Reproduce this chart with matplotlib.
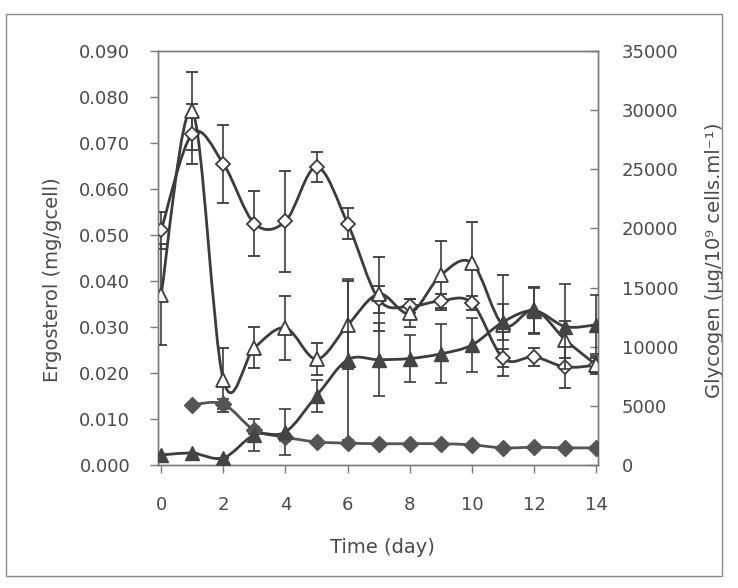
import numpy as np
import matplotlib
matplotlib.use("Agg")
import matplotlib.pyplot as plt
from matplotlib.path import Path
from matplotlib.patches import PathPatch, Rectangle

# data
days = np.arange(0, 15)

# ergosterol (left axis, mg/gcell)
ergo_open_diamond = [0.051, 0.072, 0.0655, 0.0525, 0.053, 0.0648, 0.0525, 0.036,
                     0.0345, 0.0357, 0.0352, 0.0232, 0.0235, 0.0213, 0.0217]
ergo_open_diamond_err = [0.004, 0.0065, 0.0085, 0.007, 0.011, 0.0033, 0.0033, 0.003,
                         0.0015, 0.0015, 0.0015, 0.002, 0.002, 0.0045, 0.0015]
ergo_open_triangle = [0.037, 0.077, 0.0185, 0.0255, 0.0298, 0.023, 0.0304, 0.0372,
                      0.033, 0.0413, 0.0439, 0.0304, 0.0337, 0.0272, 0.0217]
ergo_open_triangle_err = [0.011, 0.0085, 0.007, 0.0045, 0.007, 0.0035, 0.0095, 0.008,
                          0.003, 0.0075, 0.009, 0.011, 0.005, 0.004, 0.002]

# glycogen (right axis, ug/10^9 cells.ml^-1)
gly_days = np.arange(1, 15)
gly_filled_diamond = [5100, 5150, 2950, 2350, 1950, 1850, 1800, 1800, 1800, 1700,
                      1450, 1500, 1450, 1450]
gly_filled_diamond_err = [0, 450, 300, 300, 0, 0, 0, 0, 0, 0, 0, 0, 0, 0]
gly_filled_triangle = [850, 1000, 600, 2550, 2800, 5850, 8900, 8900, 9000, 9400,
                       10150, 12100, 13050, 11700, 11850]
gly_filled_triangle_err = [0, 0, 0, 1350, 1950, 1350, 6800, 3100, 1950, 2500,
                           2300, 1500, 1950, 3600, 2500]

ink = "#3c3c3c"
txt = "#4a4a4a"


def smooth_line(ax, x, y, **kw):
    """Draw an Excel style smoothed line (cubic Bezier) through the points."""
    x = np.asarray(x, float)
    y = np.asarray(y, float)
    n = len(x)
    verts = [(x[0], y[0])]
    codes = [Path.MOVETO]
    for i in range(n - 1):
        p0 = i - 1 if i > 0 else i
        p3 = i + 2 if i + 2 < n else i + 1
        c1 = (x[i] + (x[i + 1] - x[p0]) / 6.0, y[i] + (y[i + 1] - y[p0]) / 6.0)
        c2 = (x[i + 1] - (x[p3] - x[i]) / 6.0, y[i + 1] - (y[p3] - y[i]) / 6.0)
        verts += [c1, c2, (x[i + 1], y[i + 1])]
        codes += [Path.CURVE4] * 3
    ax.add_patch(PathPatch(Path(verts, codes), fill=False, **kw))


fig = plt.figure(figsize=(7.38, 5.88), dpi=100)
fig.patch.set_facecolor("white")
fig.patches.append(Rectangle((6 / 738, 12 / 588), 716 / 738, 562 / 588,
                             transform=fig.transFigure, fill=False,
                             edgecolor="#8a8a8a", linewidth=1.0))

ax = fig.add_axes([158 / 738, 1 - 465 / 588, 440 / 738, 414 / 588])
ax2 = ax.twinx()

err_kw = dict(ecolor=ink, elinewidth=1.2, capsize=4, capthick=1.2, linestyle="none")

# open diamonds
smooth_line(ax, days, ergo_open_diamond, edgecolor=ink, linewidth=2, zorder=3)
ax.errorbar(days, ergo_open_diamond, yerr=ergo_open_diamond_err, marker="D",
            markersize=7, markerfacecolor="white", markeredgecolor=ink,
            markeredgewidth=1.3, zorder=4, **err_kw)

# open triangles
smooth_line(ax, days, ergo_open_triangle, edgecolor=ink, linewidth=2, zorder=3)
ax.errorbar(days, ergo_open_triangle, yerr=ergo_open_triangle_err, marker="^",
            markersize=10, markerfacecolor="white", markeredgecolor=ink,
            markeredgewidth=1.3, zorder=4, **err_kw)

# filled diamonds
smooth_line(ax2, gly_days, gly_filled_diamond, edgecolor="#555555", linewidth=2, zorder=3)
ax2.errorbar(gly_days, gly_filled_diamond, yerr=gly_filled_diamond_err, marker="D",
             markersize=8, markerfacecolor="#555555", markeredgecolor="#555555",
             zorder=4, **err_kw)

# filled triangles
smooth_line(ax2, days, gly_filled_triangle, edgecolor=ink, linewidth=2, zorder=3)
ax2.errorbar(days, gly_filled_triangle, yerr=gly_filled_triangle_err, marker="^",
             markersize=10, markerfacecolor="#444444", markeredgecolor="#444444",
             zorder=4, **err_kw)

ax.set_xlim(-0.1, 14.05)
ax.set_ylim(0, 0.09)
ax2.set_ylim(0, 35000)

ax.set_xticks(np.arange(0, 15, 2))
ax.set_yticks(np.arange(0, 0.0901, 0.01))
ax.set_yticklabels(["%.3f" % v for v in np.arange(0, 0.0901, 0.01)])
ax2.set_yticks(np.arange(0, 35001, 5000))

for a in (ax, ax2):
    for s in a.spines.values():
        s.set_color("#7a7a7a")
        s.set_linewidth(1.0)
ax.tick_params(axis="x", colors="#7a7a7a", labelcolor=txt, labelsize=13,
               length=6, width=1, direction="out", pad=16)
ax.tick_params(axis="y", colors="#7a7a7a", labelcolor=txt, labelsize=13,
               length=6, width=1, direction="out", pad=14)
ax2.tick_params(axis="y", colors="#7a7a7a", labelcolor=txt, labelsize=13,
                length=6, width=1, direction="in", pad=17)

ax.set_xlabel("Time (day)", fontsize=14, color=txt)
ax.xaxis.set_label_coords(0.509, -0.176)
ax.set_ylabel("Ergosterol (mg/gcell)", fontsize=14, color=txt)
ax.yaxis.set_label_coords(-0.218, 0.447)
ax2.set_ylabel("Glycogen (µg/10⁹ cells.ml⁻¹)", fontsize=14, color=txt)
ax2.yaxis.set_label_coords(1.243, 0.495)

fig.savefig("out.png", dpi=100)
